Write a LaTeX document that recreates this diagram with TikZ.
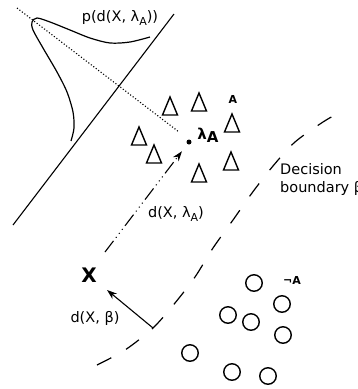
\documentclass[tikz,border=0pt]{standalone}
\usepackage{fontspec}
\setmainfont{DejaVu Sans}
\usetikzlibrary{arrows.meta, shapes.geometric}
\newcommand{\lamsub}{λ\raisebox{-0.45ex}{\fontsize{11}{11}\selectfont A}}

\begin{document}
\begin{tikzpicture}[x=1pt, y=-1pt,
    tri/.style={draw, line width=1.4pt, isosceles triangle, shape border rotate=90,
                isosceles triangle stretches, minimum width=15pt, minimum height=18pt, inner sep=0pt},
    ring/.style={draw, circle, line width=1.4pt, minimum size=16.5pt, inner sep=0pt},
    lbl/.style={font=\fontsize{14.5}{18}\selectfont, inner sep=0pt},
    arr/.style={-{Stealth[length=10pt, width=7pt]}, line width=1.1pt}
  ]
    \useasboundingbox (0,0) rectangle (357,389);

    % class A and its prototype
    \node[tri] (t1) at (170,110) {}; \node[tri] (t2) at (199,106) {};
    \node[tri] (t3) at (232,127) {}; \node[tri] (t4) at (139,140) {};
    \node[tri] (t5) at (154,158) {}; \node[tri] (t6) at (199,177) {};
    \node[tri] (t7) at (231,165) {};
    \node[font=\bfseries\fontsize{11}{11}\selectfont] (clsA) at (233,99) {A};
    \node[circle, fill, inner sep=0pt, minimum size=5pt] (lam) at (189,142) {};
    \node[font=\bfseries\fontsize{15}{15}\selectfont, inner sep=0pt] (lamlbl) at (208,135)
      {λ\raisebox{-0.4ex}{A}};

    % class not A
    \node[ring] (c1) at (254,283) {}; \node[ring] (c2) at (282,304) {};
    \node[ring] (c3) at (228,315) {}; \node[ring] (c4) at (251,322) {};
    \node[ring] (c5) at (283,335) {}; \node[ring] (c6) at (190,353) {};
    \node[ring] (c7) at (232,372) {}; \node[ring] (c8) at (268,376) {};
    \node[font=\bfseries\fontsize{11}{11}\selectfont] (clsnA) at (292,280) {¬A};

    % sample and distances
    \node[font=\bfseries\fontsize{20}{20}\selectfont, inner sep=0pt] (X) at (89,275) {X};
    \coordinate (xs) at (105,252);
    \coordinate (foot) at (153,328);
    \coordinate (xb) at (107,290);
    \draw[arr, dash pattern=on 14pt off 4pt on 1pt off 4pt on 1pt off 4pt on 1pt off 4pt,
          shorten >=9pt] (xs) -- (lam);
    \draw[arr] (foot) -- (xb);
    \node[lbl] (dlam) at (176,214) {d(X, \lamsub)};
    \node[lbl] (dbeta) at (95,318) {d(X, β)};

    % decision boundary
    \draw[line width=1.2pt, dash pattern=on 16pt off 17pt] plot[smooth] coordinates
      {(97,365) (125,350) (153,328) (175,303) (195,277) (213,248) (233,220)
       (252,193) (273,166) (295,142) (323,122) (337,114)};
    \node[lbl, align=left, anchor=west] (dec) at (280,179) {Decision\\boundary β};

    % projection line and density
    \coordinate (l1) at (13,225);
    \coordinate (l2) at (174,14);
    \draw[line width=1.1pt] (l1) -- (l2);
    \coordinate (d1) at (17,8);
    \coordinate (d2) at (179,132);
    \draw[line width=1.1pt, dotted] (d1) -- (d2);
    \draw[line width=1.2pt] plot[smooth] coordinates
      {(150,37) (130,42) (110,43) (90,38) (70,30) (50,22) (37,18) (32,22) (33,30)
       (43,48) (57,72) (67,92) (73,112) (74,128) (71,141)};
    \node[lbl] (pdens) at (120,18) {p(d(X, \lamsub))};
  \end{tikzpicture}
\end{document}
